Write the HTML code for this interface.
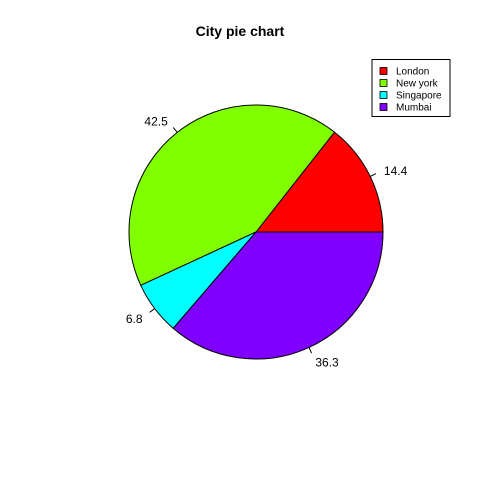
<!DOCTYPE html>
<html><head><meta charset="utf-8"><style>
body{margin:0;background:#fff}
svg{display:block;font-family:"Liberation Sans",Arial,sans-serif}
</style></head><body>
<svg id="c" width="480" height="480">
<rect width="480" height="480" fill="#fff"/>
<text x="240" y="36" text-anchor="middle" font-size="14" font-weight="bold">City pie chart</text>
<g id="slices"></g>
<g>
<rect x="372" y="59.5" width="78" height="57" fill="#fff" stroke="#000" stroke-width="1"/>
<g id="leg"></g>
</g>
</svg>
<script>
const categories=["London","New york","Singapore","Mumbai"];
const values=[14.4,42.5,6.8,36.3];
const labels=["14.4","42.5","6.8","36.3"];
const colors=["#FF0000","#80FF00","#00FFFF","#8000FF"];
const NS="http://www.w3.org/2000/svg";
const cx=256,cy=232,r=127;
const total=values.reduce((a,b)=>a+b,0);
const g=document.getElementById('slices');
let a0=0;
function pt(a,rr){return [cx+rr*Math.cos(a),cy-rr*Math.sin(a)];}
values.forEach((v,i)=>{
 const a1=a0+v/total*2*Math.PI;
 const p0=pt(a0,r),p1=pt(a1,r);
 const large=(a1-a0)>Math.PI?1:0;
 const p=document.createElementNS(NS,'path');
 p.setAttribute('d',`M${cx},${cy}L${p0[0]},${p0[1]}A${r},${r} 0 ${large} 0 ${p1[0]},${p1[1]}Z`);
 p.setAttribute('fill',colors[i]);p.setAttribute('stroke','#000');p.setAttribute('stroke-width','1');
 
 
 g.appendChild(p);
 const am=(a0+a1)/2;
 const t0=pt(am,r),t1=pt(am,r*1.05),tl=pt(am,r*1.12);
 const l=document.createElementNS(NS,'line');
 l.setAttribute('x1',t0[0]);l.setAttribute('y1',t0[1]);l.setAttribute('x2',t1[0]);l.setAttribute('y2',t1[1]);
 l.setAttribute('stroke','#000');
 
 
 g.appendChild(l);
 const t=document.createElementNS(NS,'text');
 t.setAttribute('x',tl[0]);t.setAttribute('y',tl[1]+5);t.setAttribute('font-size','12');
 t.setAttribute('text-anchor',Math.cos(am)>0?'start':'end');
 t.textContent=labels[i];
 
 
 g.appendChild(t);
 a0=a1;
});
const lg=document.getElementById('leg');
categories.forEach((c,i)=>{
 const y=71+i*12;
 const s=document.createElementNS(NS,'rect');
 s.setAttribute('x',380);s.setAttribute('y',y-3.5);s.setAttribute('width',7);s.setAttribute('height',7);
 s.setAttribute('fill',colors[i]);s.setAttribute('stroke','#000');s.setAttribute('stroke-width','0.8');
 
 
 lg.appendChild(s);
 const t=document.createElementNS(NS,'text');
 t.setAttribute('x',396);t.setAttribute('y',y+3.5);t.setAttribute('font-size','10');
 t.textContent=c;
 
 
 lg.appendChild(t);
});
</script>
</body></html>
